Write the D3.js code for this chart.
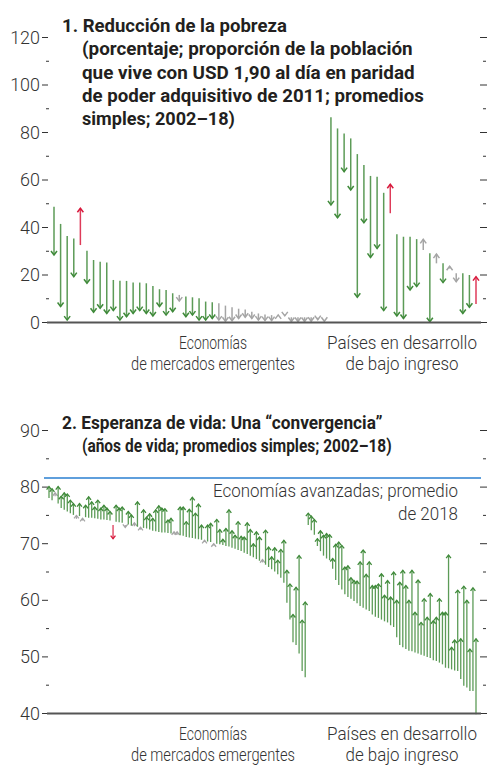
<!DOCTYPE html>
<html>
<head>
<meta charset="utf-8">
<script src="https://cdn.jsdelivr.net/npm/d3@7"></script>
<style>
  body { margin: 0; background: #fff; }
  text { font-family: Roboto, "Liberation Sans", sans-serif; }
</style>
</head>
<body>
<svg id="chart" width="487" height="766"></svg>
<script>
// ---- Panel 1: poverty headcount (%), 2002 -> 2018 ----
const povEmStart = [48.5, 41.3, 36.2, 35.2, 32.4, 30.0, 26.1, 25.4, 25.1, 17.7,
  17.4, 17.3, 16.6, 16.6, 16.3, 15.2, 13.8, 13.5, 12.1, 11.4,
  10.7, 10.4, 10.0, 8.6, 8.3, 7.9, 6.9, 6.2, 5.6, 5.3,
  4.3, 3.6, 3.2, 2.9, 2.5, 3.2, 2.0, 2.0, 2.0, 2.0, 1.8, 0.8];
const povEmEnd = [28.2, 6.5, 0.8, 19.1, 47.9, 16.3, 4.1, 5.8, 3.6, 4.8,
  0.8, 2.2, 3.6, 4.8, 3.6, 2.5, 6.5, 2.9, 4.3, 8.8,
  2.2, 2.9, 0.8, 0.8, 1.5, 0.8, 0.3, 0.5, 1.5, 2.0,
  1.5, 0.8, 0.6, 0.6, 3.0, 2.6, 0.2, 0.2, 0.2, 0.3, 1.0, 0.3];
const povEmGrey = [19, 25, 26, 27, 28, 29, 30, 31, 32, 33, 34, 35, 36, 37, 38, 39, 40, 41];

const povLicStart = [86.2, 81.5, 79.4, 77.3, 70.7, 66.1, 61.5, 61.2, 54.4, 45.8,
  36.9, 35.9, 35.9, 34.9, 30.3, 28.9, 24.7, 24.7, 22.5, 20.5, 20.5, 19.8, 7.6];
const povLicEnd = [49.3, 43.9, 63.3, 55.6, 10.4, 41.8, 27.2, 31.0, 4.8, 58.0,
  2.5, 1.5, 13.5, 14.9, 34.8, 0.1, 28.6, 16.6, 23.5, 17.0, 3.6, 6.2, 19.1];
const povLicGrey = [14, 16, 18, 19];

const povTicks = [0, 20, 40, 60, 80, 100, 120];
const povMinor = [10, 30, 50, 70, 90, 110];

// ---- Panel 2: life expectancy (years), 2002 -> 2018 ----
const lifeEmStart = [78.0, 77.6, 78.3, 77.0, 76.2, 75.9, 75.6, 75.3, 75.0, 74.3,
  74.8, 74.0, 74.6, 74.5, 74.5, 74.4, 74.3, 74.2, 74.2, 74.1,
  74.0, 73.2, 73.8, 73.7, 73.6, 73.2, 73.3, 73.1, 73.0, 72.9,
  72.4, 72.7, 72.6, 72.4, 72.2, 72.1, 72.0, 71.9, 71.9, 71.8,
  71.7, 71.6, 71.5, 71.4, 71.3, 71.1, 71.0, 70.9, 70.8, 70.7,
  70.6, 70.2, 70.3, 70.2, 69.6, 69.9, 69.8, 69.7, 69.5, 69.4,
  69.2, 69.0, 68.8, 68.6, 68.3, 68.1, 67.8, 67.5, 67.2, 66.9,
  66.6, 66.2, 65.8, 65.4, 65.0, 64.5, 63.9, 63.0, 59.5, 56.5,
  52.5, 52.0, 50.5, 47.4, 46.3];
const lifeEmEnd = [80.0, 79.6, 78.9, 80.0, 78.3, 78.9, 78.7, 77.6, 77.0, 74.9,
  77.0, 74.4, 76.7, 78.2, 77.3, 76.4, 77.6, 76.2, 76.7, 76.2,
  75.6, 70.8, 76.7, 76.2, 76.4, 72.8, 75.6, 75.0, 73.6, 77.3,
  72.8, 75.9, 74.6, 75.2, 74.4, 75.9, 76.6, 76.2, 76.1, 74.1,
  74.4, 72.0, 72.0, 76.4, 76.4, 73.8, 76.0, 78.1, 75.3, 76.9,
  73.2, 70.5, 73.2, 73.5, 69.9, 74.2, 72.4, 70.7, 72.6, 75.9,
  72.2, 71.4, 73.8, 71.2, 71.1, 73.6, 72.4, 69.9, 72.0, 71.1,
  67.1, 72.3, 69.3, 67.6, 69.2, 67.0, 68.9, 70.5, 65.2, 62.8,
  57.4, 62.2, 67.8, 56.4, 59.6];
const lifeEmGrey = [2, 9, 11, 25, 28, 30, 41, 42, 51, 54, 70];

const lifeLicStart = [73.2, 72.3, 71.5, 69.5, 68.6, 67.8, 67.3, 67.0, 65.5, 63.5,
  62.6, 61.8, 61.0, 60.5, 60.2, 59.8, 59.4, 58.9, 58.6, 58.3,
  58.0, 57.4, 57.0, 56.8, 56.5, 56.2, 56.0, 55.5, 55.2, 53.4,
  52.0, 51.6, 51.3, 51.0, 50.9, 50.7, 50.5, 50.3, 50.1, 49.9,
  49.7, 49.3, 49.2, 48.9, 48.6, 48.0, 47.9, 47.7, 47.5, 47.4,
  46.0, 44.8, 44.5, 43.9, 43.9, 39.8];
const lifeLicEnd = [75.3, 74.8, 74.2, 70.8, 72.2, 71.4, 71.7, 71.5, 67.3, 69.8,
  70.2, 69.6, 65.8, 66.0, 63.9, 63.4, 63.3, 66.7, 68.8, 64.5,
  66.7, 62.5, 62.5, 62.8, 64.6, 60.8, 63.4, 60.5, 64.9, 59.9,
  63.1, 65.2, 62.5, 59.9, 65.2, 57.8, 63.5, 56.0, 60.2, 56.9,
  61.1, 56.3, 56.9, 60.2, 57.8, 57.8, 67.9, 51.6, 52.9, 61.7,
  53.1, 62.4, 59.9, 51.3, 62.1, 53.1];
const lifeLicGrey = [];

const lifeTicks = [40, 50, 60, 70, 80, 90];
const lifeMinor = [45, 55, 65, 75, 85];
const advancedAvg2018 = 81.5;

const groupLabels = [["Economías", "de mercados emergentes"], ["Países en desarrollo", "de bajo ingreso"]];

// ---- drawing ----
const svg = d3.select("#chart");
const green = "#3f8a3a", red = "#d8193c", grey = "#a5a5a5", ink = "#333", blue = "#2a7fd0";

// condensed look: squeeze text horizontally, either to a target width or by a factor
function label(g, str, x, y, anchor, size, weight, width, factor) {
  const t = g.append("text")
    .attr("text-anchor", anchor)
    .style("font-size", size + "px")
    .style("font-weight", weight)
    .attr("fill", weight === "bold" ? "#231f20" : ink)
    .text(str);
  const nat = t.node().getComputedTextLength();
  const sx = width ? width / nat : (factor || 0.84);
  t.attr("transform", `translate(${x},${y}) scale(${sx},1)`);
  return t;
}

function drawPanel(cfg) {
  const g = svg.append("g");
  const y = d3.scaleLinear().domain(cfg.domain).range(cfg.yRange);

  const start = cfg.emStart.concat(cfg.licStart);
  const end = cfg.emEnd.concat(cfg.licEnd);
  const greySet = new Set(cfg.emGrey.concat(cfg.licGrey.map(i => i + cfg.emStart.length)));
  const x = d3.scalePoint().domain(d3.range(start.length)).range(cfg.xRange);

  // left / right ticks
  const leftMajor = g.append("g").attr("transform", "translate(48,0)")
    .call(d3.axisLeft(y).tickValues(cfg.ticks).tickSize(6).tickPadding(2));
  leftMajor.select(".domain").remove();
  leftMajor.selectAll("line").attr("stroke", ink);
  leftMajor.selectAll("text").remove();
  cfg.ticks.forEach(v => label(g, v, 40, y(v) + 6.5, "end", 18.5, 300, null, 0.97));

  const leftMinor = g.append("g").attr("transform", "translate(49,0)")
    .call(d3.axisLeft(y).tickValues(cfg.minor).tickSize(3).tickFormat(""));
  leftMinor.select(".domain").remove();
  leftMinor.selectAll("line").attr("stroke", ink);

  const rightMajor = g.append("g").attr("transform", "translate(480,0)")
    .call(d3.axisRight(y).tickValues(cfg.ticks).tickSize(7).tickFormat(""));
  rightMajor.select(".domain").remove();
  rightMajor.selectAll("line").attr("stroke", ink);

  const rightMinor = g.append("g").attr("transform", "translate(483,0)")
    .call(d3.axisRight(y).tickValues(cfg.minor).tickSize(3).tickFormat(""));
  rightMinor.select(".domain").remove();
  rightMinor.selectAll("line").attr("stroke", ink);

  // reference line (panel 2)
  if (cfg.refValue != null) {
    g.append("line")
      .attr("x1", 44).attr("x2", 481)
      .attr("y1", y(cfg.refValue)).attr("y2", y(cfg.refValue))
      .attr("stroke", blue).attr("stroke-width", 1.5);
  }

  // arrows
  const idx = d3.range(start.length);
  const colorOf = i => {
    if (greySet.has(i)) return grey;
    const better = cfg.lowerIsBetter ? end[i] < start[i] : end[i] > start[i];
    return better ? green : red;
  };
  const arrows = g.append("g").selectAll("g.arrow").data(idx).join("g").attr("class", "arrow");
  arrows.append("line")
    .attr("x1", i => x(i)).attr("x2", i => x(i))
    .attr("y1", i => y(start[i])).attr("y2", i => y(end[i]))
    .attr("stroke", colorOf)
    .attr("stroke-opacity", i => greySet.has(i) ? 1 : 0.85)
    .attr("stroke-width", cfg.shaft);
  arrows.append("path")
    .attr("d", i => {
      const up = end[i] > start[i];
      const tip = y(end[i]);
      const h = up ? cfg.headH : -cfg.headH;
      return `M${x(i) - cfg.headW},${tip + h} L${x(i)},${tip} L${x(i) + cfg.headW},${tip + h}`;
    })
    .attr("fill", "none")
    .attr("stroke", colorOf)
    .attr("stroke-width", cfg.shaft);

  // baseline
  g.append("line")
    .attr("x1", 47).attr("x2", 481)
    .attr("y1", y(cfg.domain[0]) + 0.5).attr("y2", y(cfg.domain[0]) + 0.5)
    .attr("stroke", "#555").attr("stroke-width", 2);

  // group labels
  const base = y(cfg.domain[0]);
  label(g, groupLabels[0][0], 213, base + 27, "middle", 18.5, 300, 68);
  label(g, groupLabels[0][1], 213, base + 48, "middle", 18.5, 300, 164);
  label(g, groupLabels[1][0], 402, base + 27, "middle", 18.5, 300, 150);
  label(g, groupLabels[1][1], 402, base + 48, "middle", 18.5, 300, 113);

  // title
  cfg.title.forEach((line, k) => {
    label(g, line[0], k === 0 ? 62 : 82, cfg.titleY + k * 23.3, "start", 18.5, "bold", line[1]);
  });
  return { g, x, y };
}

drawPanel({
  domain: [0, 120], yRange: [322, 37], xRange: [54, 476],
  emStart: povEmStart, emEnd: povEmEnd, emGrey: povEmGrey,
  licStart: povLicStart, licEnd: povLicEnd, licGrey: povLicGrey,
  ticks: povTicks, minor: povMinor, lowerIsBetter: true,
  shaft: 1.5, headW: 3, headH: 4,
  titleY: 32,
  title: [["1. Reducción de la pobreza", 225],
          ["(porcentaje; proporción de la población", 331],
          ["que vive con USD 1,90 al día en paridad", 333],
          ["de poder adquisitivo de 2011; promedios", 342],
          ["simples; 2002–18)", 153]]
});

const p2 = drawPanel({
  domain: [40, 90], yRange: [713, 430], xRange: [49, 476],
  emStart: lifeEmStart, emEnd: lifeEmEnd, emGrey: lifeEmGrey,
  licStart: lifeLicStart, licEnd: lifeLicEnd, licGrey: lifeLicGrey,
  ticks: lifeTicks, minor: lifeMinor, lowerIsBetter: false,
  shaft: 1.3, headW: 2.4, headH: 3,
  refValue: advancedAvg2018,
  titleY: 429,
  title: [["2. Esperanza de vida: Una “convergencia”", 321],
          ["(años de vida; promedios simples; 2002–18)", 310]]
});

// reference line annotation
label(p2.g, "Economías avanzadas; promedio", 458, 497, "end", 18.5, 300, 245);
label(p2.g, "de 2018", 458, 520, "end", 18.5, 300, 60);
</script>
</body>
</html>
